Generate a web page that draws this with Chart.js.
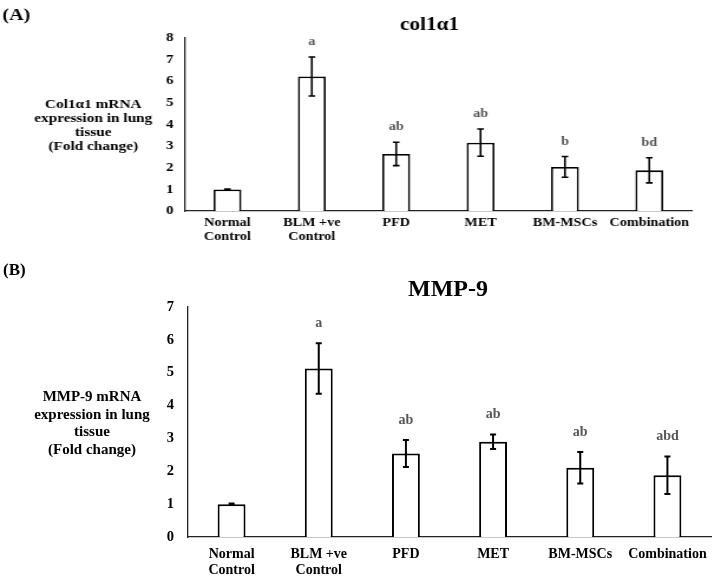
<!DOCTYPE html>
<html>
<head>
<meta charset="utf-8">
<script src="https://cdn.jsdelivr.net/npm/chart.js@4.4.1/dist/chart.umd.min.js"></script>
<style>
  body { margin: 0; background: #fff; }
  #panelA { position: absolute; left: 0; top: 0; width: 608px; height: 260px; transform: scaleX(1.18); transform-origin: 0 0; }
  #panelB { position: absolute; left: 0; top: 260px; width: 717px; height: 321px; }
</style>
</head>
<body>
<div id="panelA"><canvas id="chartA" width="608" height="260"></canvas></div>
<div id="panelB"><canvas id="chartB" width="717" height="321"></canvas></div>
<script>
const groups = [["Normal", "Control"], ["BLM +ve", "Control"], "PFD", "MET", "BM-MSCs", "Combination"];

// (A) col1a1
const col1Means = [1.0, 6.22, 2.64, 3.16, 2.04, 1.88];
const col1Err = [0.02, 0.90, 0.54, 0.63, 0.48, 0.58];
const col1Letters = ["", "a", "ab", "ab", "b", "bd"];
const col1Ticks = [0, 1, 2, 3, 4, 5, 6, 7, 8];

// (B) MMP-9
const mmpMeans = [1.0, 5.13, 2.54, 2.90, 2.11, 1.88];
const mmpErr = [0.02, 0.77, 0.41, 0.22, 0.48, 0.57];
const mmpLetters = ["", "a", "ab", "ab", "ab", "abd"];
const mmpTicks = [0, 1, 2, 3, 4, 5, 6, 7];

const serif = '"Liberation Serif", "Times New Roman", serif';
Chart.defaults.font.family = serif;
Chart.defaults.color = "#000";

// error bars, significance letters and the extra text
function panelText(cfg) {
  return {
    id: "panelText",
    afterDraw(chart) {
      const ctx = chart.ctx;
      const y = chart.scales.y;
      const meta = chart.getDatasetMeta(0);
      ctx.save();
      ctx.strokeStyle = "#000";
      ctx.lineWidth = cfg.errWidth;
      meta.data.forEach((bar, i) => {
        const top = y.getPixelForValue(cfg.means[i] + cfg.errs[i]);
        const bot = y.getPixelForValue(cfg.means[i] - cfg.errs[i]);
        ctx.beginPath();
        ctx.moveTo(bar.x, top); ctx.lineTo(bar.x, bot);
        ctx.moveTo(bar.x - cfg.cap, top); ctx.lineTo(bar.x + cfg.cap, top);
        ctx.moveTo(bar.x - cfg.cap, bot); ctx.lineTo(bar.x + cfg.cap, bot);
        ctx.stroke();
        if (cfg.letters[i]) {
          ctx.fillStyle = "#555";
          ctx.font = "bold " + cfg.letterSize + "px " + serif;
          ctx.textAlign = "center";
          ctx.textBaseline = "middle";
          ctx.fillText(cfg.letters[i], bar.x, top - cfg.letterGap);
        }
      });
      ctx.fillStyle = "#000";
      ctx.textAlign = "center";
      ctx.textBaseline = "middle";
      ctx.font = "bold " + cfg.titleSize + "px " + serif;
      ctx.fillText(cfg.title, cfg.titleX, cfg.titleY);
      ctx.font = "bold " + cfg.yTitleSize + "px " + serif;
      cfg.yTitle.forEach((line, k) => {
        ctx.fillText(line, cfg.yTitleX, cfg.yTitleY + k * cfg.yTitleStep);
      });
      ctx.textAlign = "left";
      ctx.font = "bold " + cfg.labelSize + "px " + serif;
      ctx.fillText(cfg.panel, cfg.panelX, cfg.panelY);
      ctx.restore();
    }
  };
}

function makeChart(id, means, ticks, sizes, pad, plugin) {
  return new Chart(document.getElementById(id), {
    type: "bar",
    data: {
      labels: groups,
      datasets: [{
        data: means,
        backgroundColor: "#fff",
        borderColor: "#000",
        borderWidth: sizes.barBorder,
        borderSkipped: "bottom",
        barPercentage: sizes.barPct,
        categoryPercentage: 1
      }]
    },
    options: {
      responsive: false,
      animation: false,
      layout: { padding: pad },
      plugins: { legend: { display: false }, tooltip: { enabled: false } },
      scales: {
        x: {
          grid: { display: false, drawTicks: false },
          border: { display: true, color: "#222", width: 1.3 },
          ticks: { font: { size: sizes.xFont, weight: "bold", lineHeight: 1.15 }, padding: sizes.xPad, maxRotation: 0, autoSkip: false },
          afterFit: s => { s.height = 40; }
        },
        y: {
          min: 0,
          max: ticks[ticks.length - 1],
          grid: { display: false, drawTicks: false },
          border: { display: true, color: "#222", width: 1.3 },
          afterBuildTicks: s => { s.ticks = ticks.map(v => ({ value: v })); },
          ticks: { font: { size: sizes.yFont, weight: "bold" }, padding: sizes.yPad },
          afterFit: s => { s.width = 30; }
        }
      }
    },
    plugins: [plugin]
  });
}

makeChart("chartA", col1Means, col1Ticks,
  { barBorder: 1.8, barPct: 0.33, xFont: 12, xPad: 5, yFont: 12.5, yPad: 10 },
  { left: 127, right: 22, top: 38, bottom: 9 },
  panelText({
    means: col1Means, errs: col1Err, letters: col1Letters,
    errWidth: 1.6, cap: 2.8, letterSize: 12, letterGap: 15,
    title: "col1\u03b11", titleSize: 18, titleX: 364, titleY: 25,
    yTitle: ["Col1\u03b11 mRNA", "expression in lung", "tissue", "(Fold change)"],
    yTitleSize: 13, yTitleX: 79, yTitleY: 105, yTitleStep: 13.8,
    panel: "(A)", labelSize: 17, panelX: 2, panelY: 16
  }));

makeChart("chartB", mmpMeans, mmpTicks,
  { barBorder: 2, barPct: 0.32, xFont: 14, xPad: 9, yFont: 14.5, yPad: 14 },
  { left: 158, right: 6, top: 47, bottom: 4 },
  panelText({
    means: mmpMeans, errs: mmpErr, letters: mmpLetters,
    errWidth: 2, cap: 3, letterSize: 14, letterGap: 20,
    title: "MMP-9", titleSize: 24, titleX: 448, titleY: 30,
    yTitle: ["MMP-9 mRNA", "expression in lung", "tissue", "(Fold change)"],
    yTitleSize: 15, yTitleX: 92, yTitleY: 137, yTitleStep: 17.8,
    panel: "(B)", labelSize: 17, panelX: 3, panelY: 11
  }));
</script>
</body>
</html>
